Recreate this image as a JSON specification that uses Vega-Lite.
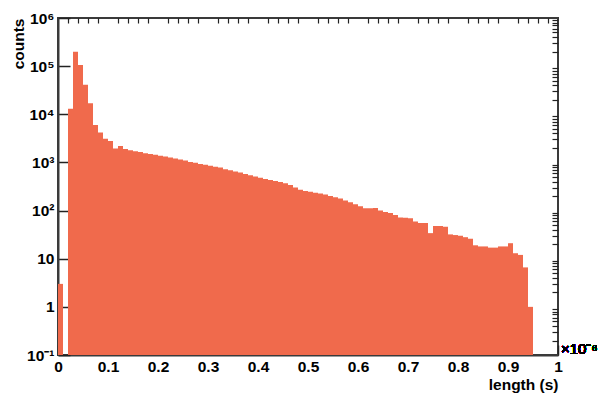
{
  "$schema": "https://vega.github.io/schema/vega-lite/v6.json",
  "width": 500,
  "height": 337,
  "autosize": {"type": "none"},
  "padding": {"left": 58, "top": 18, "right": 45, "bottom": 41},
  "background": "white",
  "config": {
    "view": {"stroke": "#3a3a3a", "strokeWidth": 2},
    "font": "Liberation Sans",
    "axis": {"labelFont": "Liberation Sans", "titleFont": "Liberation Sans", "labelColor": "black", "titleColor": "black", "tickColor": "#222", "domainColor": "#3a3a3a", "grid": false}
  },
  "data": {"values": [
    {"bin_start": 0.00, "bin_end": 0.01, "counts": 3},
    {"bin_start": 0.02, "bin_end": 0.03, "counts": 13000},
    {"bin_start": 0.03, "bin_end": 0.04, "counts": 200000},
    {"bin_start": 0.04, "bin_end": 0.05, "counts": 105000},
    {"bin_start": 0.05, "bin_end": 0.06, "counts": 41000},
    {"bin_start": 0.06, "bin_end": 0.07, "counts": 17000},
    {"bin_start": 0.07, "bin_end": 0.08, "counts": 6000},
    {"bin_start": 0.08, "bin_end": 0.09, "counts": 4200},
    {"bin_start": 0.09, "bin_end": 0.10, "counts": 3100},
    {"bin_start": 0.10, "bin_end": 0.11, "counts": 2800},
    {"bin_start": 0.11, "bin_end": 0.12, "counts": 1950},
    {"bin_start": 0.12, "bin_end": 0.13, "counts": 2200},
    {"bin_start": 0.13, "bin_end": 0.14, "counts": 1900},
    {"bin_start": 0.14, "bin_end": 0.15, "counts": 1800},
    {"bin_start": 0.15, "bin_end": 0.16, "counts": 1700},
    {"bin_start": 0.16, "bin_end": 0.17, "counts": 1650},
    {"bin_start": 0.17, "bin_end": 0.18, "counts": 1550},
    {"bin_start": 0.18, "bin_end": 0.19, "counts": 1500},
    {"bin_start": 0.19, "bin_end": 0.20, "counts": 1450},
    {"bin_start": 0.20, "bin_end": 0.21, "counts": 1380},
    {"bin_start": 0.21, "bin_end": 0.22, "counts": 1320},
    {"bin_start": 0.22, "bin_end": 0.23, "counts": 1270},
    {"bin_start": 0.23, "bin_end": 0.24, "counts": 1200},
    {"bin_start": 0.24, "bin_end": 0.25, "counts": 1150},
    {"bin_start": 0.25, "bin_end": 0.26, "counts": 1100},
    {"bin_start": 0.26, "bin_end": 0.27, "counts": 1020},
    {"bin_start": 0.27, "bin_end": 0.28, "counts": 980},
    {"bin_start": 0.28, "bin_end": 0.29, "counts": 930},
    {"bin_start": 0.29, "bin_end": 0.30, "counts": 890},
    {"bin_start": 0.30, "bin_end": 0.31, "counts": 850},
    {"bin_start": 0.31, "bin_end": 0.32, "counts": 810},
    {"bin_start": 0.32, "bin_end": 0.33, "counts": 780},
    {"bin_start": 0.33, "bin_end": 0.34, "counts": 720},
    {"bin_start": 0.34, "bin_end": 0.35, "counts": 690},
    {"bin_start": 0.35, "bin_end": 0.36, "counts": 650},
    {"bin_start": 0.36, "bin_end": 0.37, "counts": 620},
    {"bin_start": 0.37, "bin_end": 0.38, "counts": 575},
    {"bin_start": 0.38, "bin_end": 0.39, "counts": 540},
    {"bin_start": 0.39, "bin_end": 0.40, "counts": 510},
    {"bin_start": 0.40, "bin_end": 0.41, "counts": 480},
    {"bin_start": 0.41, "bin_end": 0.42, "counts": 455},
    {"bin_start": 0.42, "bin_end": 0.43, "counts": 430},
    {"bin_start": 0.43, "bin_end": 0.44, "counts": 410},
    {"bin_start": 0.44, "bin_end": 0.45, "counts": 390},
    {"bin_start": 0.45, "bin_end": 0.46, "counts": 370},
    {"bin_start": 0.46, "bin_end": 0.47, "counts": 340},
    {"bin_start": 0.47, "bin_end": 0.48, "counts": 300},
    {"bin_start": 0.48, "bin_end": 0.49, "counts": 270},
    {"bin_start": 0.49, "bin_end": 0.50, "counts": 255},
    {"bin_start": 0.50, "bin_end": 0.51, "counts": 245},
    {"bin_start": 0.51, "bin_end": 0.52, "counts": 235},
    {"bin_start": 0.52, "bin_end": 0.53, "counts": 225},
    {"bin_start": 0.53, "bin_end": 0.54, "counts": 215},
    {"bin_start": 0.54, "bin_end": 0.55, "counts": 200},
    {"bin_start": 0.55, "bin_end": 0.56, "counts": 190},
    {"bin_start": 0.56, "bin_end": 0.57, "counts": 178},
    {"bin_start": 0.57, "bin_end": 0.58, "counts": 162},
    {"bin_start": 0.58, "bin_end": 0.59, "counts": 148},
    {"bin_start": 0.59, "bin_end": 0.60, "counts": 135},
    {"bin_start": 0.60, "bin_end": 0.61, "counts": 123},
    {"bin_start": 0.61, "bin_end": 0.62, "counts": 112},
    {"bin_start": 0.62, "bin_end": 0.63, "counts": 112},
    {"bin_start": 0.63, "bin_end": 0.64, "counts": 113},
    {"bin_start": 0.64, "bin_end": 0.65, "counts": 100},
    {"bin_start": 0.65, "bin_end": 0.66, "counts": 93},
    {"bin_start": 0.66, "bin_end": 0.67, "counts": 89},
    {"bin_start": 0.67, "bin_end": 0.68, "counts": 81},
    {"bin_start": 0.68, "bin_end": 0.69, "counts": 72},
    {"bin_start": 0.69, "bin_end": 0.70, "counts": 71},
    {"bin_start": 0.70, "bin_end": 0.71, "counts": 69},
    {"bin_start": 0.71, "bin_end": 0.72, "counts": 59},
    {"bin_start": 0.72, "bin_end": 0.73, "counts": 55},
    {"bin_start": 0.73, "bin_end": 0.74, "counts": 55},
    {"bin_start": 0.74, "bin_end": 0.75, "counts": 34},
    {"bin_start": 0.75, "bin_end": 0.76, "counts": 48},
    {"bin_start": 0.76, "bin_end": 0.77, "counts": 48},
    {"bin_start": 0.77, "bin_end": 0.78, "counts": 46},
    {"bin_start": 0.78, "bin_end": 0.79, "counts": 32},
    {"bin_start": 0.79, "bin_end": 0.80, "counts": 31},
    {"bin_start": 0.80, "bin_end": 0.81, "counts": 30},
    {"bin_start": 0.81, "bin_end": 0.82, "counts": 28},
    {"bin_start": 0.82, "bin_end": 0.83, "counts": 26},
    {"bin_start": 0.83, "bin_end": 0.84, "counts": 19},
    {"bin_start": 0.84, "bin_end": 0.85, "counts": 18},
    {"bin_start": 0.85, "bin_end": 0.86, "counts": 18},
    {"bin_start": 0.86, "bin_end": 0.87, "counts": 17},
    {"bin_start": 0.87, "bin_end": 0.88, "counts": 17},
    {"bin_start": 0.88, "bin_end": 0.89, "counts": 18},
    {"bin_start": 0.89, "bin_end": 0.90, "counts": 18},
    {"bin_start": 0.90, "bin_end": 0.91, "counts": 21},
    {"bin_start": 0.91, "bin_end": 0.92, "counts": 13},
    {"bin_start": 0.92, "bin_end": 0.93, "counts": 12},
    {"bin_start": 0.93, "bin_end": 0.94, "counts": 6.6},
    {"bin_start": 0.94, "bin_end": 0.95, "counts": 1}
  ]},
  "resolve": {"axis": {"x": "independent", "y": "independent"}},
  "layer": [
    {
      "mark": {"type": "bar", "color": "#F06A4C", "stroke": null, "clip": true},
      "encoding": {
        "x": {"field": "bin_start", "type": "quantitative",
          "scale": {"domain": [0, 1], "nice": false, "zero": false},
          "axis": {"values": [0, 0.1, 0.2, 0.3, 0.4, 0.5, 0.6, 0.7, 0.8, 0.9, 1], "format": ".1~f",
            "tickSize": -10, "tickWidth": 1.5, "labelPadding": 14, "labelFontSize": 15.5, "labelFontWeight": "bold",
            "labelFlush": false, "labelOverlap": false, "domainWidth": 2,
            "title": "length (s)", "titleFontSize": 15.5, "titleFontWeight": "bold", "titleAnchor": "end", "titlePadding": 3}},
        "x2": {"field": "bin_end"},
        "y": {"field": "counts", "type": "quantitative",
          "scale": {"type": "log", "domain": [0.1, 1000000], "nice": false},
          "axis": {"values": [0.1, 1, 10, 100, 1000, 10000, 100000, 1000000],
            "labelExpr": "datum.value < 0.5 ? '10⁻¹' : datum.value < 5 ? '1' : datum.value < 50 ? '10' : datum.value < 500 ? '10²' : datum.value < 5000 ? '10³' : datum.value < 50000 ? '10⁴' : datum.value < 500000 ? '10⁵' : '10⁶'",
            "tickSize": -12, "tickWidth": 1.5, "labelPadding": 16, "labelFontSize": 15.5, "labelFontWeight": "bold",
            "labelFlush": false, "labelOverlap": false, "domainWidth": 2,
            "title": "counts", "titleFontSize": 15.5, "titleFontWeight": "bold", "titleAnchor": "end", "titlePadding": 0}},
        "y2": {"datum": 0.1}
      }
    },
    {
      "mark": {"type": "text", "text": "×10⁻⁶", "align": "left", "baseline": "middle", "dx": 3, "dy": -6, "fontSize": 15, "font": "Liberation Sans"},
      "encoding": {
        "x": {"datum": 1, "type": "quantitative", "scale": {"domain": [0, 1], "nice": false, "zero": false},
          "axis": {"values": [0.02, 0.04, 0.06, 0.08, 0.12, 0.14, 0.16, 0.18, 0.22, 0.24, 0.26, 0.28, 0.32, 0.34, 0.36, 0.38, 0.42, 0.44, 0.46, 0.48, 0.52, 0.54, 0.56, 0.58, 0.62, 0.64, 0.66, 0.68, 0.72, 0.74, 0.76, 0.78, 0.82, 0.84, 0.86, 0.88, 0.92, 0.94, 0.96, 0.98],
            "labels": false, "domain": false, "tickSize": -5, "tickWidth": 1.2, "title": null}},
        "y": {"datum": 0.1, "type": "quantitative", "scale": {"type": "log", "domain": [0.1, 1000000], "nice": false},
          "axis": {"values": [0.2, 0.3, 0.4, 0.5, 0.6, 0.7, 0.8, 0.9, 2, 3, 4, 5, 6, 7, 8, 9, 20, 30, 40, 50, 60, 70, 80, 90, 200, 300, 400, 500, 600, 700, 800, 900, 2000, 3000, 4000, 5000, 6000, 7000, 8000, 9000, 20000, 30000, 40000, 50000, 60000, 70000, 80000, 90000, 200000, 300000, 400000, 500000, 600000, 700000, 800000, 900000],
            "labels": false, "domain": false, "tickSize": -6, "tickWidth": 1.2, "title": null}}
      }
    }
  ]
}
